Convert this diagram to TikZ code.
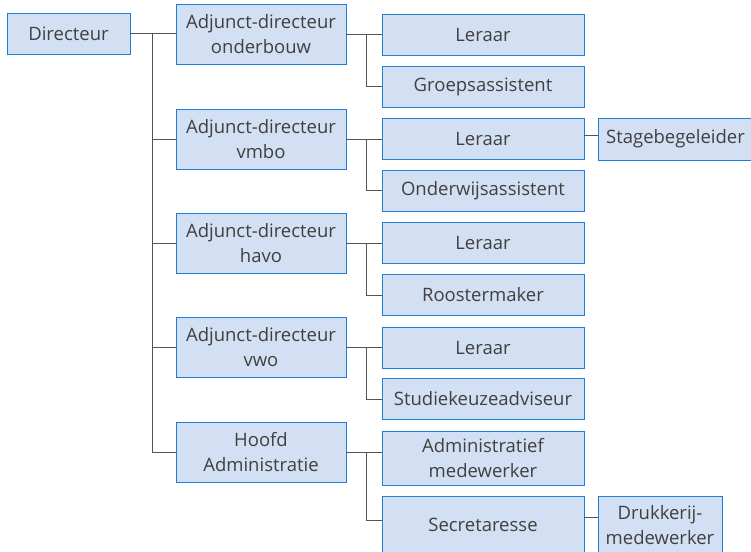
\documentclass[tikz,border=0pt]{standalone}
\usepackage{fontspec}
\setmainfont{Open Sans}
\definecolor{boxfill}{RGB}{211,224,244}
\definecolor{boxline}{RGB}{28,128,218}
\definecolor{txt}{RGB}{64,64,64}
\definecolor{wire}{RGB}{85,85,85}
\begin{document}
\begin{tikzpicture}[x=1pt, y=-1pt, every node/.style={rectangle, draw=boxline, fill=boxfill, line width=0.9pt, text=txt, align=center, inner sep=0pt, font=\fontsize{18.5}{25}\selectfont},
    top/.style={minimum width=123pt, minimum height=41pt},
    adj/.style={minimum width=170pt, minimum height=60pt},
    job/.style={minimum width=202pt, minimum height=41pt}]
\useasboundingbox (0,0) rectangle (751,551);
    \node[top] (dir) at (68.5, 33.5) {Directeur};
    \node[adj] (a1) at (261, 34) {Adjunct-directeur\\onderbouw};
    \node[adj] (a2) at (261, 139) {Adjunct-directeur\\vmbo};
    \node[adj] (a3) at (261, 243) {Adjunct-directeur\\havo};
    \node[adj] (a4) at (261, 347) {Adjunct-directeur\\vwo};
    \node[adj] (a5) at (261, 452) {Hoofd\\Administratie};
    \node[job] (l1) at (483, 34.5) {Leraar};
    \node[job] (g1) at (483, 86.5) {Groepsassistent};
    \node[job] (l2) at (483, 139) {Leraar};
    \node[job] (o2) at (483, 190.5) {Onderwijsassistent};
    \node[job] (l3) at (483, 242.5) {Leraar};
    \node[job] (r3) at (483, 295) {Roostermaker};
    \node[job] (l4) at (483, 347.5) {Leraar};
    \node[job] (st4) at (483, 399) {Studiekeuzeadviseur};
    \node[job, minimum height=54pt] (am5) at (483, 458) {Administratief\\medewerker};
    \node[job, minimum height=58pt] (sec5) at (483, 525) {Secretaresse};
\node[minimum width=154pt, minimum height=42pt] (sb2) at (675.5, 139) {Stagebegeleider};
\node[minimum width=124pt, minimum height=58pt] (dk5) at (660, 525) {Drukkerij-\\medewerker};
    \foreach \from/\to in {dir/a1, a1/l1, a2/l2, a3/l3, a4/l4, a5/am5}
        \draw[wire] (\from) -- (\to.west |- \from);
    \foreach \from/\to/\d in {dir/a2/22, dir/a3/22, dir/a4/22, dir/a5/22, a1/g1/20, a2/o2/20, a3/r3/20, a4/st4/20}
        \draw[wire] (\from.east) -- ++(\d,0) |- (\to);
\draw[wire] (a5.east) -- ++(20,0) |- ([yshift=5pt]sec5.west);
\draw[wire] ([yshift=4pt]l2.east) -- ([yshift=4pt]sb2.west);
\draw[wire] ([yshift=8pt]sec5.east) -- ([yshift=8pt]dk5.west);
\end{tikzpicture}
\end{document}
